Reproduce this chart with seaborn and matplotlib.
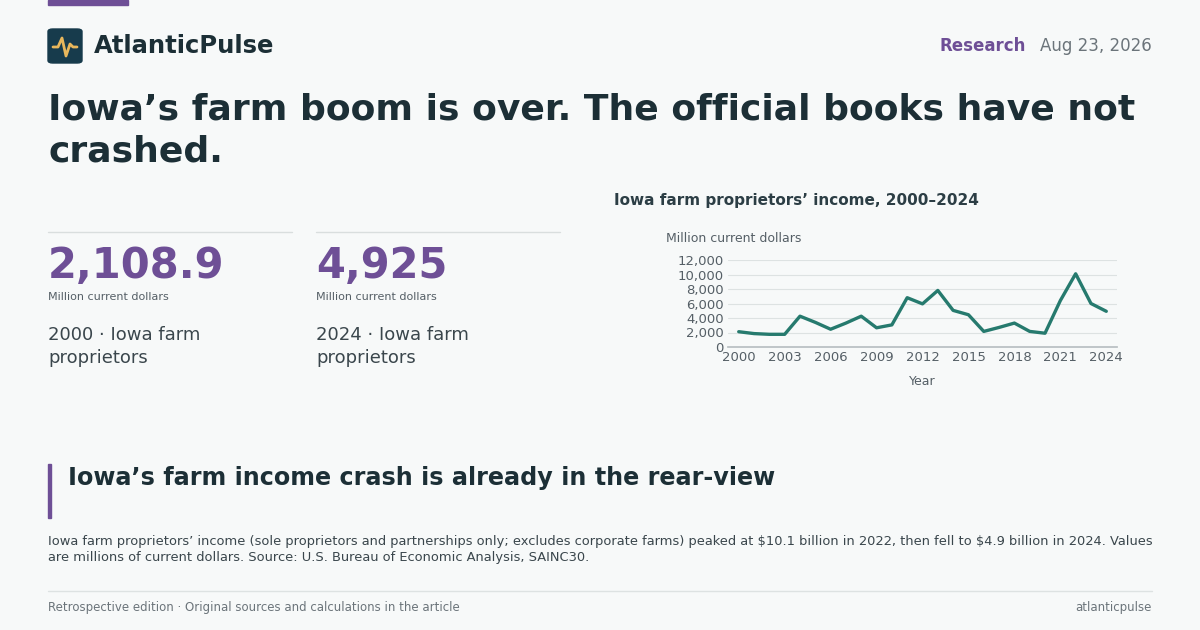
import matplotlib
matplotlib.use("Agg")
import matplotlib.pyplot as plt
from matplotlib.patches import FancyBboxPatch, Rectangle
import seaborn as sns
import pandas as pd

years = list(range(2000, 2025))
income = [2108.9, 1850, 1750, 1750, 4250, 3400, 2450, 3300, 4250, 2650, 3050, 6800,
          5950, 7800, 5050, 4450, 2150, 2700, 3300, 2150, 1900, 6400, 10100, 6000, 4925]
xticks = [2000, 2003, 2006, 2009, 2012, 2015, 2018, 2021, 2024]
yticks = [0, 2000, 4000, 6000, 8000, 10000, 12000]

sns.set_theme(style="white")
plt.rcParams['font.family'] = ['DejaVu Sans']
BG = "#f7f9f9"
DARK = "#1c2f36"
PURPLE = "#6e4f96"
GREY = "#555f66"
TEAL = "#267a6e"

W, H = 1200, 630
fig = plt.figure(figsize=(12, 6.3), dpi=100, facecolor=BG)

def fx(x): return x / W
def fy(y): return 1 - y / H

def txt(x, y, s, **kw):
    fig.text(fx(x), fy(y), s, parse_math=False, **kw)

fig.patches.append(Rectangle((fx(48), fy(5)), fx(80), 5 / H, transform=fig.transFigure, color=PURPLE))
fig.patches.append(FancyBboxPatch((fx(48), fy(63)), fx(34), 34 / H, boxstyle="round,pad=0,rounding_size=0.004",
                                  transform=fig.transFigure, color="#173b4c"))
lx = [53, 58, 62, 66, 70, 73, 77]
ly = [47, 47, 38, 56, 44, 47, 47]
fig.lines.append(plt.Line2D([fx(v) for v in lx], [fy(v) for v in ly], transform=fig.transFigure,
                            color="#e8b75c", lw=2))
txt(94, 46, "AtlanticPulse", fontsize=17.5, fontweight="bold", color=DARK, va="center")
txt(1026, 46, "Research", fontsize=12, fontweight="bold", color=PURPLE, va="center", ha="right")
txt(1152, 46, "Aug 23, 2026", fontsize=12, color="#6b747a", va="center", ha="right")

txt(48, 110, "Iowa’s farm boom is over. The official books have not", fontsize=26, fontweight="bold", color=DARK, va="center")
txt(48, 152, "crashed.", fontsize=26, fontweight="bold", color=DARK, va="center")

for x0, val, lab1, lab2 in [(48, "2,108.9", "2000 · Iowa farm", "proprietors"),
                            (316, "4,925", "2024 · Iowa farm", "proprietors")]:
    fig.lines.append(plt.Line2D([fx(x0), fx(x0 + 244)], [fy(232)] * 2, transform=fig.transFigure, color="#d9dede", lw=1))
    txt(x0, 266, val, fontsize=30, fontweight="bold", color=PURPLE, va="center")
    txt(x0, 297, "Million current dollars", fontsize=8, color=GREY, va="center")
    txt(x0, 335, lab1, fontsize=13, color="#3a464c", va="center")
    txt(x0, 358, lab2, fontsize=13, color="#3a464c", va="center")

txt(796, 201, "Iowa farm proprietors’ income, 2000–2024", fontsize=11, fontweight="bold", color="#2c3e45", va="center", ha="center")
txt(666, 239, "Million current dollars", fontsize=9, color=GREY, va="center")
ax = fig.add_axes([fx(728), fy(347), fx(1117 - 728), (347 - 260) / H])
ax.set_facecolor(BG)
df = pd.DataFrame({"Year": years, "Income": income})
sns.lineplot(data=df, x="Year", y="Income", ax=ax, color=TEAL, lw=2.4)
ax.set_ylim(0, 12000)
ax.set_xlim(1999.3, 2024.7)
ax.set_xticks(xticks)
ax.set_yticks(yticks)
ax.set_yticklabels([f"{v:,}" for v in yticks])
ax.tick_params(labelsize=9.5, colors=GREY, length=0, pad=3)
ax.grid(axis="y", color="#dde2e2", lw=0.8)
for s in ["top", "right", "left"]:
    ax.spines[s].set_visible(False)
ax.spines["bottom"].set_color("#b8bfc2")
ax.set_ylabel("")
ax.set_xlabel("Year", fontsize=9, color=GREY, labelpad=8)

fig.patches.append(Rectangle((fx(48), fy(518)), fx(3), 54 / H, transform=fig.transFigure, color=PURPLE))
txt(68, 478, "Iowa’s farm income crash is already in the rear-view", fontsize=17.2, fontweight="bold", color=DARK, va="center")
txt(48, 542, "Iowa farm proprietors’ income (sole proprietors and partnerships only; excludes corporate farms) peaked at $10.1 billion in 2022, then fell to $4.9 billion in 2024. Values",
    fontsize=9.35, color="#3a464c", va="center")
txt(48, 558, "are millions of current dollars. Source: U.S. Bureau of Economic Analysis, SAINC30.", fontsize=9.35, color="#3a464c", va="center")

fig.lines.append(plt.Line2D([fx(48), fx(1152)], [fy(591)] * 2, transform=fig.transFigure, color="#dde2e2", lw=1))
txt(48, 608, "Retrospective edition · Original sources and calculations in the article", fontsize=8.5, color="#6b747a", va="center")
txt(1152, 608, "atlanticpulse", fontsize=8.5, color="#6b747a", va="center", ha="right")

fig.savefig("out.png", dpi=100, facecolor=BG)
